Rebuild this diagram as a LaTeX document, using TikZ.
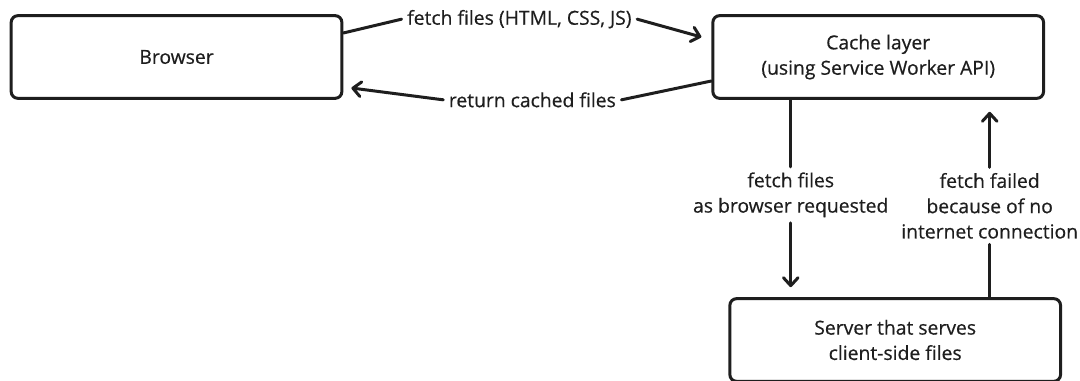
\documentclass[tikz,border=0pt]{standalone}
\usepackage{fontspec}
\setmainfont{Open Sans}[FakeBold=0.5]
\usepackage{xcolor}
\definecolor{ink}{RGB}{30,30,30}
\usepackage{tikz}
\usetikzlibrary{arrows.meta,positioning}

\begin{document}
\begin{tikzpicture}[
      font=\fontsize{14.5}{19}\selectfont,
      text=ink,
      box/.style={draw=ink, line width=2.25pt, rounded corners=5pt, align=center,
                  minimum width=248pt, minimum height=62pt, fill=white},
      lbl/.style={align=center, inner sep=4pt},
      arrow/.style={-{Straight Barb[length=6pt,width=11pt,line cap=round,line join=round]},
                    line width=2.25pt, color=ink, line cap=round}
  ]
  \useasboundingbox (-132.4pt,42.75pt) rectangle (677.6pt,-243pt);
  \node[box] (browser) {Browser};
  \node[box, right=276pt of browser] (cache) {Cache layer\\(using Service Worker API)};
  \node[box, below=148pt of cache, xshift=12.75pt] (server) {Server that serves\\client-side files};

  \node[lbl] (fetch) at ([xshift=132pt, yshift=-3.75pt]browser.north east) {fetch files (HTML, CSS, JS)};
  \node[lbl] (return) at ([xshift=141.75pt]browser.south east) {return cached files};
  \node[lbl] (req) at ([xshift=-65.6pt, yshift=-71.25pt]cache.south) {fetch files\\as browser requested};
  \node[lbl] (fail) at ([xshift=83.6pt, yshift=-79.5pt]cache.south) {fetch failed\\because of no\\internet connection};

  \draw[arrow] ([yshift=18pt]browser.east) -- (fetch.west) (fetch.east) -- ([xshift=-7.5pt, yshift=15pt]cache.west);
  \draw[arrow] ([yshift=-18pt]cache.west) -- (return.east) (return.west) -- ([xshift=6pt, yshift=-23.25pt]browser.east);
  \draw[arrow, shorten >=7.5pt] (cache.south -| req) -- (req.north) (req.south) -- (server.north -| req);
  \draw[arrow, shorten >=9pt] (server.north -| fail) -- (fail.south) (fail.north) -- (cache.south -| fail);
\end{tikzpicture}
\end{document}
